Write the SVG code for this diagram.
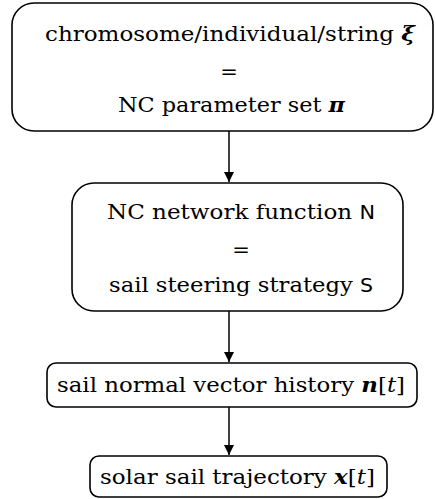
<svg xmlns="http://www.w3.org/2000/svg" width="436" height="499" viewBox="0 0 436 499">
<defs>
<style>
.box{fill:#fff;stroke:#000;stroke-width:1.6}
.t{font-family:'DejaVu Serif','Liberation Serif',serif;font-size:21px;fill:#000}
.m{font-weight:bold;font-style:italic}
.i{font-style:italic}
.sf{font-family:'DejaVu Sans','Liberation Sans',sans-serif;font-size:19px}
.c{stroke:#000;stroke-width:1.5;fill:none}
</style>
<marker id="ah" viewBox="0 0 10 10" refX="10" refY="5" markerWidth="10" markerHeight="10" markerUnits="userSpaceOnUse" orient="auto">
<path d="M0,0 L10,5 L0,10 Z" fill="#000"/>
</marker>
</defs>
<g id="connectors">
<line class="c" x1="229" y1="131" x2="229" y2="182" marker-end="url(#ah)"/>
<line class="c" x1="229" y1="311" x2="229" y2="362" marker-end="url(#ah)"/>
<line class="c" x1="229" y1="407" x2="229" y2="455" marker-end="url(#ah)"/>
</g>
<g id="n1">
<rect class="box" x="12" y="3" width="421" height="128" rx="22" ry="22"/>
<text class="t" x="230" y="41" text-anchor="middle" textLength="370" lengthAdjust="spacingAndGlyphs">chromosome/individual/string <tspan class="m">ξ</tspan></text>
<text class="t" x="229" y="79" text-anchor="middle">=</text>
<text class="t" x="231.5" y="112" text-anchor="middle" textLength="227" lengthAdjust="spacingAndGlyphs">NC parameter set <tspan class="m">π</tspan></text>
</g>
<g id="n2">
<rect class="box" x="72" y="183" width="331" height="128" rx="22" ry="22"/>
<text class="t" x="241" y="219" text-anchor="middle" textLength="268" lengthAdjust="spacingAndGlyphs">NC network function <tspan class="sf">N</tspan></text>
<text class="t" x="241" y="257" text-anchor="middle">=</text>
<text class="t" x="241" y="292" text-anchor="middle" textLength="264" lengthAdjust="spacingAndGlyphs">sail steering strategy <tspan class="sf">S</tspan></text>
</g>
<g id="n3">
<rect class="box" x="47" y="363" width="370" height="44" rx="9" ry="9"/>
<text class="t" x="231" y="392" text-anchor="middle" textLength="348" lengthAdjust="spacingAndGlyphs">sail normal vector history <tspan class="m">n</tspan>[<tspan class="i">t</tspan>]</text>
</g>
<g id="n4">
<rect class="box" x="90" y="456" width="297" height="41" rx="9" ry="9"/>
<text class="t" x="237.5" y="484" text-anchor="middle" textLength="275" lengthAdjust="spacingAndGlyphs">solar sail trajectory <tspan class="m">x</tspan>[<tspan class="i">t</tspan>]</text>
</g>
</svg>
